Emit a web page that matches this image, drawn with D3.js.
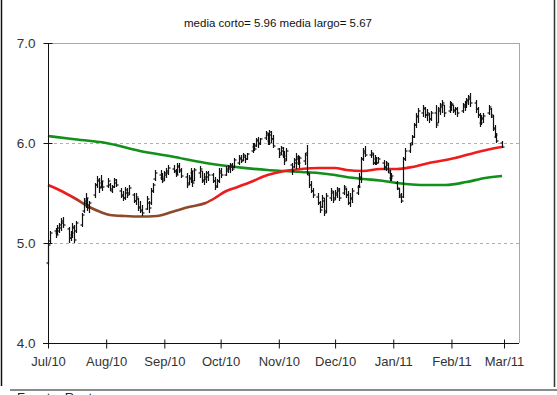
<!DOCTYPE html>
<html><head><meta charset="utf-8">
<script src="https://cdn.jsdelivr.net/npm/d3@7"></script>
<style>body{margin:0;background:#fff;}svg{display:block;font-family:"Liberation Sans",Arial,sans-serif;}</style>
</head><body>
<svg id="c" width="557" height="395"></svg>
<script>
// ---- data ----
const titleText = "media corto= 5.96 media largo= 5.67";
const sourceText = "Fuente: Reuters";
const firstDay = "2010-07-01", lastDay = "2011-02-28", axisEnd = "2011-03-09";
const yTicks = [4, 5, 6, 7];
const gridValues = [5, 6];
// daily bars (weekdays), month by month
const highJul = [5.00,5.12,5.15,5.18,5.20,5.25,5.26,5.16,5.12,5.20,5.18,5.22,5.30,5.45,5.50,5.45,5.42,5.60,5.67,5.65,5.68,5.62];
const lowJul  = [4.78,5.00,5.05,5.08,5.10,5.12,5.15,5.00,5.02,5.05,5.00,5.10,5.16,5.30,5.35,5.32,5.30,5.45,5.55,5.50,5.55,5.52];
const openJul = [4.80,5.02,5.12,5.10,5.12,5.15,5.20,5.14,5.05,5.08,5.15,5.12,5.18,5.32,5.40,5.44,5.35,5.48,5.58,5.62,5.56,5.60];
const closeJul= [4.98,5.10,5.08,5.15,5.18,5.22,5.18,5.05,5.10,5.16,5.03,5.20,5.28,5.42,5.45,5.38,5.40,5.58,5.63,5.55,5.62,5.56];
const highAug = [5.65,5.60,5.58,5.65,5.64,5.55,5.52,5.56,5.55,5.58,5.50,5.50,5.45,5.42,5.38,5.47,5.42,5.55,5.60,5.73,5.73,5.70];
const lowAug  = [5.55,5.52,5.50,5.55,5.56,5.45,5.42,5.43,5.45,5.48,5.40,5.38,5.32,5.30,5.27,5.33,5.30,5.38,5.50,5.62,5.63,5.60];
const openAug = [5.57,5.58,5.52,5.56,5.60,5.52,5.48,5.45,5.50,5.50,5.48,5.42,5.44,5.36,5.32,5.34,5.40,5.40,5.52,5.64,5.68,5.65];
const closeAug= [5.62,5.54,5.56,5.63,5.58,5.47,5.45,5.53,5.48,5.55,5.42,5.46,5.35,5.33,5.30,5.44,5.35,5.52,5.58,5.70,5.66,5.62];
const highSep = [5.72,5.75,5.78,5.78,5.74,5.80,5.80,5.75,5.70,5.68,5.75,5.72,5.75,5.77,5.72,5.70,5.72,5.72,5.70,5.66,5.64,5.75];
const lowSep  = [5.62,5.65,5.68,5.70,5.66,5.68,5.70,5.65,5.55,5.58,5.60,5.56,5.62,5.65,5.60,5.58,5.60,5.62,5.60,5.53,5.55,5.60];
const openSep = [5.64,5.68,5.70,5.74,5.72,5.70,5.76,5.72,5.66,5.60,5.64,5.70,5.62,5.70,5.72,5.62,5.64,5.66,5.68,5.62,5.57,5.62];
const closeSep= [5.70,5.72,5.75,5.72,5.68,5.77,5.73,5.67,5.58,5.65,5.72,5.60,5.73,5.74,5.63,5.66,5.70,5.68,5.62,5.56,5.62,5.72];
const highOct = [5.75,5.77,5.78,5.80,5.80,5.85,5.88,5.88,5.90,5.88,5.90,6.00,6.00,6.05,6.06,6.05,6.12,6.10,6.13,6.12,6.08];
const lowOct  = [5.65,5.67,5.70,5.70,5.72,5.75,5.78,5.80,5.82,5.80,5.83,5.90,5.92,5.96,5.95,5.98,6.03,5.98,5.98,6.00,5.95];
const openOct = [5.70,5.68,5.72,5.74,5.76,5.76,5.80,5.84,5.83,5.86,5.84,5.92,5.96,5.97,6.02,6.00,6.05,6.08,6.02,6.08,6.04];
const closeOct= [5.68,5.74,5.76,5.78,5.74,5.83,5.85,5.82,5.88,5.84,5.89,5.98,5.94,6.03,5.99,6.04,6.10,6.00,6.11,6.04,5.97];
const highNov = [5.95,5.97,5.96,5.92,5.95,5.80,5.85,5.90,5.88,5.87,5.90,5.98,5.70,5.62,5.55,5.50,5.42,5.48,5.45,5.50,5.55,5.52];
const lowNov  = [5.85,5.88,5.85,5.78,5.82,5.68,5.75,5.74,5.78,5.75,5.78,5.68,5.55,5.50,5.45,5.38,5.30,5.35,5.27,5.30,5.42,5.40];
const openNov = [5.94,5.90,5.92,5.88,5.84,5.78,5.76,5.80,5.84,5.80,5.82,5.90,5.68,5.58,5.52,5.46,5.40,5.36,5.42,5.32,5.45,5.50];
const closeNov= [5.88,5.95,5.87,5.82,5.92,5.72,5.83,5.86,5.80,5.85,5.88,5.70,5.58,5.52,5.48,5.40,5.33,5.45,5.30,5.47,5.52,5.43];
const highDec = [5.53,5.56,5.55,5.58,5.55,5.52,5.50,5.55,5.58,5.70,5.86,5.95,5.97,5.93,5.90,5.88,5.86,5.86,5.83,5.82,5.80,5.73,5.70];
const lowDec  = [5.43,5.45,5.42,5.48,5.45,5.38,5.36,5.40,5.48,5.55,5.60,5.82,5.86,5.85,5.78,5.78,5.78,5.80,5.73,5.72,5.70,5.62,5.62];
const openDec = [5.45,5.48,5.52,5.50,5.54,5.48,5.40,5.44,5.50,5.56,5.64,5.84,5.90,5.88,5.88,5.80,5.84,5.80,5.80,5.76,5.78,5.70,5.65];
const closeDec= [5.50,5.54,5.45,5.56,5.48,5.40,5.45,5.52,5.56,5.66,5.84,5.92,5.88,5.90,5.80,5.85,5.80,5.84,5.76,5.80,5.72,5.65,5.67];
const highJan = [5.62,5.55,5.50,5.86,5.95,6.00,6.08,6.20,6.30,6.35,6.38,6.36,6.34,6.30,6.32,6.38,6.36,6.40,6.43,6.38,6.42];
const lowJan  = [5.53,5.45,5.40,5.45,5.82,5.90,5.98,6.05,6.15,6.20,6.26,6.25,6.22,6.20,6.22,6.15,6.20,6.28,6.30,6.26,6.30];
const openJan = [5.60,5.54,5.46,5.46,5.84,5.92,6.00,6.06,6.18,6.26,6.30,6.34,6.28,6.28,6.24,6.30,6.20,6.32,6.36,6.38,6.32];
const closeJan= [5.55,5.48,5.42,5.84,5.92,5.98,6.06,6.18,6.27,6.32,6.35,6.28,6.30,6.24,6.30,6.18,6.34,6.38,6.40,6.30,6.38];
const highFeb = [6.41,6.38,6.36,6.36,6.40,6.42,6.45,6.48,6.50,6.43,6.36,6.30,6.28,6.30,6.38,6.35,6.28,6.18,6.10,6.02];
const lowFeb  = [6.32,6.30,6.28,6.26,6.30,6.32,6.35,6.38,6.36,6.30,6.25,6.16,6.18,6.20,6.28,6.25,6.12,6.05,6.00,5.95];
const openFeb = [6.36,6.38,6.32,6.34,6.32,6.36,6.38,6.42,6.44,6.40,6.34,6.28,6.20,6.24,6.30,6.34,6.26,6.14,6.06,6.00];
const closeFeb= [6.39,6.33,6.34,6.30,6.38,6.40,6.43,6.46,6.40,6.34,6.28,6.20,6.25,6.27,6.36,6.28,6.15,6.08,6.02,5.96];
// moving averages (read at sample dates)
const shortDates = ["2010-07-01","2010-07-07","2010-07-15","2010-07-23","2010-07-29","2010-08-03","2010-08-11","2010-08-19","2010-08-28","2010-09-05","2010-09-14","2010-09-23","2010-09-28","2010-10-03","2010-10-10","2010-10-17","2010-10-26","2010-11-04","2010-11-13","2010-11-22","2010-12-01","2010-12-07","2010-12-16","2010-12-25","2011-01-03","2011-01-11","2011-01-20","2011-02-03","2011-02-15","2011-02-22","2011-02-28"];
const shortValues = [5.58,5.53,5.45,5.36,5.31,5.28,5.27,5.265,5.27,5.31,5.36,5.40,5.45,5.51,5.56,5.61,5.68,5.72,5.74,5.75,5.75,5.73,5.72,5.74,5.74,5.76,5.80,5.85,5.91,5.94,5.96];
const longDates = ["2010-07-01","2010-07-14","2010-08-01","2010-08-19","2010-09-05","2010-09-23","2010-10-09","2010-10-26","2010-11-04","2010-11-13","2010-11-22","2010-12-01","2010-12-07","2010-12-16","2010-12-25","2011-01-03","2011-01-11","2011-01-20","2011-01-29","2011-02-09","2011-02-19","2011-02-28"];
const longValues = [6.07,6.04,6.00,5.92,5.865,5.80,5.76,5.73,5.72,5.71,5.70,5.68,5.66,5.64,5.625,5.60,5.585,5.58,5.58,5.61,5.65,5.67];
const brownFrom = "2010-07-14", brownTo = "2010-09-28";

// ---- build ----
const parse = d3.timeParse("%Y-%m-%d");
const highs = [].concat(highJul,highAug,highSep,highOct,highNov,highDec,highJan,highFeb);
const lows = [].concat(lowJul,lowAug,lowSep,lowOct,lowNov,lowDec,lowJan,lowFeb);
const opens = [].concat(openJul,openAug,openSep,openOct,openNov,openDec,openJan,openFeb);
const closes = [].concat(closeJul,closeAug,closeSep,closeOct,closeNov,closeDec,closeJan,closeFeb);
const days = d3.timeDay.range(parse(firstDay), d3.timeDay.offset(parse(lastDay),1)).filter(d => d.getDay() !== 0 && d.getDay() !== 6);
const bars = days.map((d,i) => ({date:d, o:opens[i], h:highs[i], l:lows[i], c:closes[i]})).filter(b => b.h != null);

const svg = d3.select("#c");
const L = 48, R = 519, T = 43, B = 343;
const x = d3.scaleTime().domain([parse(firstDay), parse(axisEnd)]).range([L, R]);
const y = d3.scaleLinear().domain([4, 7]).range([B, T]);

// outer frame
svg.append("line").attr("x1",1.5).attr("x2",1.5).attr("y1",0).attr("y2",386).attr("stroke","#111").attr("stroke-width",1.5);
svg.append("line").attr("x1",554.5).attr("x2",554.5).attr("y1",0).attr("y2",387).attr("stroke","#333").attr("stroke-width",1.5);
svg.append("line").attr("x1",10).attr("x2",557).attr("y1",390).attr("y2",390).attr("stroke","#8a8a8a").attr("stroke-width",2);
svg.append("text").attr("x",17).attr("y",402).attr("font-size",13).attr("fill","#222").text(sourceText);

// title
svg.append("text").attr("x",278).attr("y",27).attr("text-anchor","middle").attr("font-size",11.5).attr("fill","#111").text(titleText);

// plot frame (top/right)
svg.append("line").attr("x1",L).attr("x2",R).attr("y1",T+0.5).attr("y2",T+0.5).attr("stroke","#a8a8a8");
svg.append("line").attr("x1",R+0.5).attr("x2",R+0.5).attr("y1",T).attr("y2",B).attr("stroke","#a8a8a8");

// grid
svg.append("g").selectAll("line").data(gridValues).join("line")
  .attr("x1",L).attr("x2",R).attr("y1",d=>Math.round(y(d))+0.5).attr("y2",d=>Math.round(y(d))+0.5)
  .attr("stroke","#b0b0b0").attr("stroke-dasharray","3,3");

// moving averages
const grad = svg.append("defs").append("linearGradient").attr("id","redgrad")
  .attr("gradientUnits","userSpaceOnUse").attr("x1",L).attr("x2",R).attr("y1",0).attr("y2",0);
const f = v => (x(parse(v)) - L) / (R - L);
[[0,"#ee1c1c"],[f(brownFrom)-0.01,"#ee1c1c"],[f(brownFrom)+0.03,"#8c4a2a"],[f(brownTo)-0.03,"#8c4a2a"],[f(brownTo),"#ee1c1c"],[1,"#ee1c1c"]]
  .forEach(s => grad.append("stop").attr("offset",s[0]).attr("stop-color",s[1]));

const lineGen = d3.line().x(d=>x(d[0])).y(d=>y(d[1])).curve(d3.curveMonotoneX);
svg.append("path").datum(longDates.map((d,i)=>[parse(d),longValues[i]]))
  .attr("d",lineGen).attr("fill","none").attr("stroke","#12901a").attr("stroke-width",2.6);
svg.append("path").datum(shortDates.map((d,i)=>[parse(d),shortValues[i]]))
  .attr("d",lineGen).attr("fill","none").attr("stroke","url(#redgrad)").attr("stroke-width",2.6);

// bars
const gb = svg.append("g").attr("stroke","#111").attr("stroke-width",1.2);
bars.forEach(b => {
  const cx = Math.round(x(b.date)) + 0.5;
  gb.append("line").attr("x1",cx).attr("x2",cx).attr("y1",y(b.h)).attr("y2",y(b.l));
  gb.append("line").attr("x1",cx-2).attr("x2",cx).attr("y1",y(b.o)).attr("y2",y(b.o));
  gb.append("line").attr("x1",cx).attr("x2",cx+2).attr("y1",y(b.c)).attr("y2",y(b.c));
});

// axes
const yAxis = svg.append("g").attr("transform",`translate(${L+0.5},0)`)
  .call(d3.axisLeft(y).tickValues(yTicks).tickFormat(d3.format(".1f")).tickSize(5).tickPadding(8));
yAxis.select(".domain").attr("stroke","#111").attr("d",`M0,${T}V${B}`);
yAxis.selectAll(".tick line").attr("x1",4).attr("x2",-5).attr("stroke","#111");
yAxis.selectAll(".tick text").attr("font-size",13.5).attr("fill","#333").attr("font-family","Liberation Sans, Arial, sans-serif");

const months = d3.timeMonth.range(parse(firstDay), d3.timeDay.offset(parse(axisEnd),-1));
const xAxis = svg.append("g").attr("transform",`translate(0,${B+0.5})`)
  .call(d3.axisBottom(x).tickValues(months).tickFormat(d3.timeFormat("%b/%y")).tickSize(5));
xAxis.select(".domain").attr("stroke","#111").attr("d",`M${L-5},0H${R}`);
xAxis.selectAll(".tick line").attr("y1",-4).attr("y2",5).attr("stroke","#111");
xAxis.selectAll(".tick text").attr("y",22).attr("dy",0).attr("font-size",13).attr("fill","#333").attr("font-family","Liberation Sans, Arial, sans-serif");
</script>
</body></html>
